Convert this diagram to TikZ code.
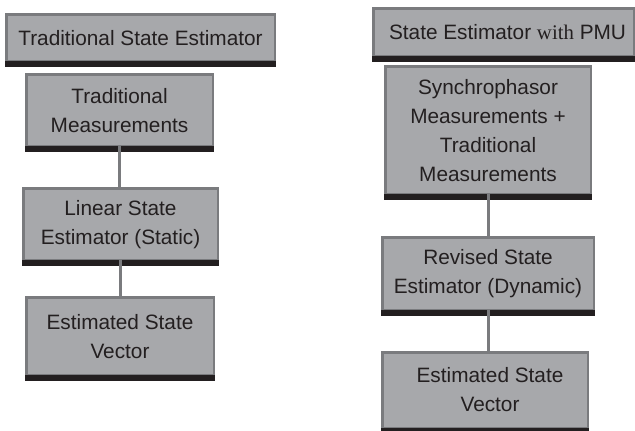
\documentclass[tikz,border=0pt]{standalone}
\usepackage{fontspec}
\setmainfont{Liberation Sans}
\newfontfamily\tnr{Liberation Serif}
\definecolor{boxfill}{HTML}{A7A8AB}
\definecolor{boxborder}{HTML}{7A7B7E}
\definecolor{bandcol}{HTML}{231F20}
\definecolor{textcol}{HTML}{231F20}
\begin{document}
\begin{tikzpicture}[x=1pt,y=-1pt,
  box/.style={draw=boxborder, fill=boxfill, line width=2.5pt, inner sep=0pt, outer sep=0pt,
    align=center, text=textcol, font=\fontsize{20.8}{29}\selectfont},
  lbl/.style={inner sep=0pt, align=center, text=textcol, font=\fontsize{20.8}{29}\selectfont},
  band/.style={fill=bandcol},
  conn/.style={draw=boxborder, line width=3pt}]
\useasboundingbox (0,0) rectangle (635,431);
% left column
\node[box, minimum width=268.5pt, minimum height=46.5pt] (l1) at (140.5,37.75) {Traditional State Estimator};
\node[box, minimum width=186.5pt, minimum height=71.5pt] (l2) at (119.5,110.25) {Traditional\\Measurements};
\node[box, minimum width=194.5pt, minimum height=71.5pt] (l3) at (120.5,224.25) {Linear State\\Estimator (Static)};
\node[box, minimum width=187.5pt, minimum height=77.5pt] (l4) at (120,336.25) {Estimated State\\Vector};
% right column
\node[box, minimum width=260.5pt, minimum height=47.5pt] (r1) at (503.5,32.25) {};
\node[lbl] (r1t) at ([xshift=4pt]r1.center) {State Estimator {\tnr with} PMU};
\node[box, minimum width=205.5pt, minimum height=127.5pt] (r2) at (488,130.25) {Synchrophasor\\Measurements +\\Traditional\\Measurements};
\node[box, minimum width=211.5pt, minimum height=72.5pt] (r3) at (488,273.75) {Revised State\\Estimator (Dynamic)};
\node[box, minimum width=205.5pt, minimum height=75.5pt] (r4) at (485,390.25) {};
\node[lbl] (r4t) at ([xshift=5pt,yshift=1pt]r4.center) {Estimated State\\Vector};
% bottom bands
\foreach \n in {l1,l2,l3,l4,r1,r2,r3,r4}{
  \fill[band] ([xshift=-1.25pt]\n.south west) rectangle ([xshift=1.25pt,yshift=-5.5pt]\n.south east);
}
% connectors
\draw[conn] (l2.south) -- (l2.south |- l3.north);
\draw[conn] (l3.south) -- (l3.south |- l4.north);
\draw[conn] (r2.south) -- (r3.north);
\draw[conn] (r3.south) -- (r3.south |- r4.north);
\end{tikzpicture}
\end{document}
